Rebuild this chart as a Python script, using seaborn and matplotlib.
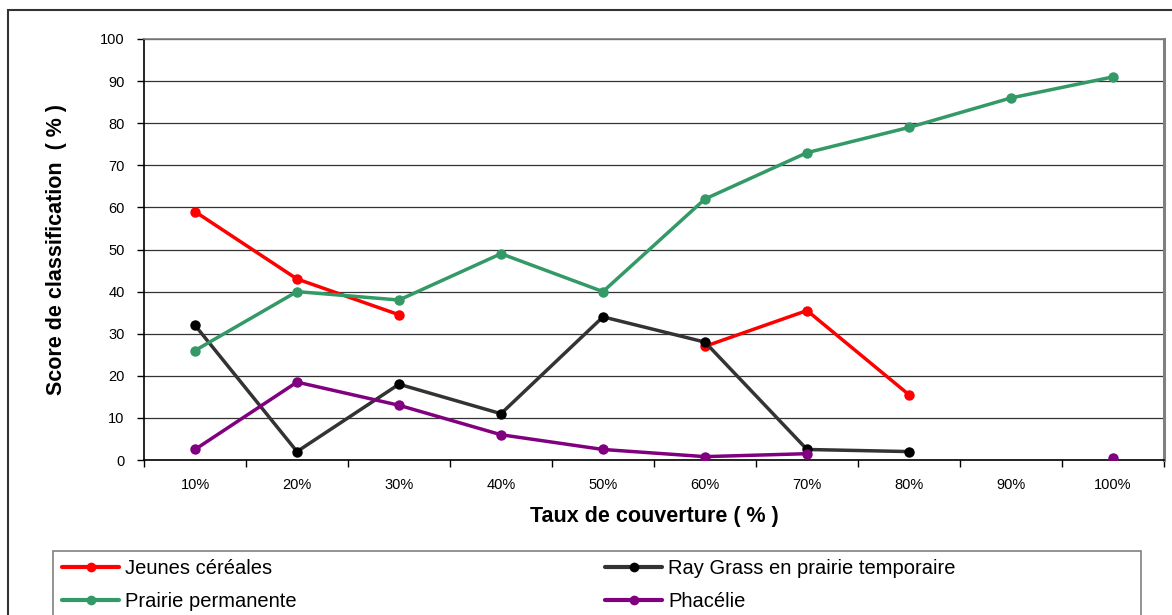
import numpy as np
import pandas as pd
import matplotlib
matplotlib.use("Agg")
import matplotlib.pyplot as plt
from matplotlib.lines import Line2D
from matplotlib.patches import Rectangle
import seaborn as sns

categories = ["10%", "20%", "30%", "40%", "50%", "60%", "70%", "80%", "90%", "100%"]
jeunes_cereales = [59, 43, 34.5, np.nan, np.nan, 27, 35.5, 15.5, np.nan, np.nan]
ray_grass = [32, 2, 18, 11, 34, 28, 2.5, 2, np.nan, np.nan]
prairie_permanente = [26, 40, 38, 49, 40, 62, 73, 79, 86, 91]
phacelie = [2.5, 18.5, 13, 6, 2.5, 0.8, 1.5, np.nan, np.nan, 0.5]
series_names = ["Jeunes céréales", "Ray Grass en prairie temporaire",
                "Prairie permanente", "Phacélie"]
y_ticks = list(range(0, 101, 10))

sns.set_theme(style="white")
plt.rcParams['font.family'] = ['Liberation Sans', 'DejaVu Sans']
for k in ["text.color", "axes.labelcolor", "xtick.color", "ytick.color"]:
    plt.rcParams[k] = "black"

W, H = 1172, 615
fig = plt.figure(figsize=(W / 100, H / 100), dpi=100)
ax = fig.add_axes([144 / W, 1 - 460 / H, (1164 - 144) / W, (460 - 39) / H])

styles = {
    "Jeunes céréales": dict(line="#FF0000", mk="#FF0000"),
    "Ray Grass en prairie temporaire": dict(line="#333333", mk="#000000"),
    "Prairie permanente": dict(line="#339966", mk="#339966"),
    "Phacélie": dict(line="#800080", mk="#800080"),
}
values = [jeunes_cereales, ray_grass, prairie_permanente, phacelie]

rows = []
for name, vals in zip(series_names, values):
    seg = 0
    prev_nan = True
    for i, v in enumerate(vals):
        if np.isnan(v):
            prev_nan = True
            continue
        if prev_nan:
            seg += 1
        prev_nan = False
        rows.append(dict(series=name, x=i, value=v, seg=seg))
df = pd.DataFrame(rows)

for name in series_names:
    sub = df[df.series == name]
    st = styles[name]
    sns.lineplot(data=sub, x="x", y="value", units="seg", estimator=None,
                 color=st["line"], linewidth=2.5, marker="o", markersize=7.5,
                 markerfacecolor=st["mk"], markeredgecolor=st["mk"],
                 markeredgewidth=0, ax=ax, legend=False, zorder=3)

ax.set_xlim(-0.5, len(categories) - 0.5)
ax.set_ylim(0, 100)
ax.set_yticks(y_ticks)
ax.set_yticklabels([str(t) for t in y_ticks], fontsize=10.5)
ax.set_xticks(np.arange(-0.5, len(categories), 1.0))
ax.set_xticklabels([])
ax.set_xticks(np.arange(len(categories)), minor=True)
ax.set_xticklabels(categories, minor=True, fontsize=10.5)
ax.tick_params(axis="x", which="major", length=5, width=1, color="black", direction="out", bottom=True)
ax.tick_params(axis="x", which="minor", length=0, pad=13, bottom=True)
ax.tick_params(axis="y", which="major", length=5, width=1, color="black", direction="out", left=True, pad=9)

ax.grid(axis="y", color="#333333", linewidth=0.9)
ax.grid(axis="x", visible=False)
ax.set_axisbelow(True)
for s in ["left", "bottom"]:
    ax.spines[s].set_color("black")
    ax.spines[s].set_linewidth(1.2)
ax.spines["top"].set_color("#808080")
ax.spines["top"].set_linewidth(1.2)
ax.spines["right"].set_color("#808080")
ax.spines["right"].set_linewidth(2.2)

ax.set_xlabel("Taux de couverture ( % )", fontsize=15.5, fontweight="bold", labelpad=10)
ax.set_ylabel("Score de classification  ( % )", fontsize=15.5, fontweight="bold", labelpad=24)

handles = [Line2D([0], [0], color=styles[n]["line"], lw=3, marker="o", markersize=7,
                  markerfacecolor=styles[n]["mk"], markeredgewidth=0) for n in series_names]

leg_kw = dict(ncol=1, loc="upper left", fontsize=14.5, frameon=False,
              borderpad=0, labelspacing=0.68, handlelength=2.85,
              handletextpad=0.3, borderaxespad=0)
leg1 = fig.legend([handles[0], handles[2]], [series_names[0], series_names[2]],
                  bbox_to_anchor=(62 / W, 1 - 559 / H), **leg_kw)
leg2 = fig.legend([handles[1], handles[3]], [series_names[1], series_names[3]],
                  bbox_to_anchor=(605 / W, 1 - 559 / H), **leg_kw)

fig.patches.append(Rectangle((53 / W, -0.05), (1141 - 53) / W, 1 - 551 / H + 0.05,
                             transform=fig.transFigure, fill=False,
                             edgecolor="#808080", linewidth=1.2, zorder=0))
fig.patches.append(Rectangle((8 / W, -0.05), 1.2, 1 - 10 / H + 0.05,
                             transform=fig.transFigure, fill=False,
                             edgecolor="#333333", linewidth=1.5, zorder=0))

fig.savefig("out.png", dpi=100)
